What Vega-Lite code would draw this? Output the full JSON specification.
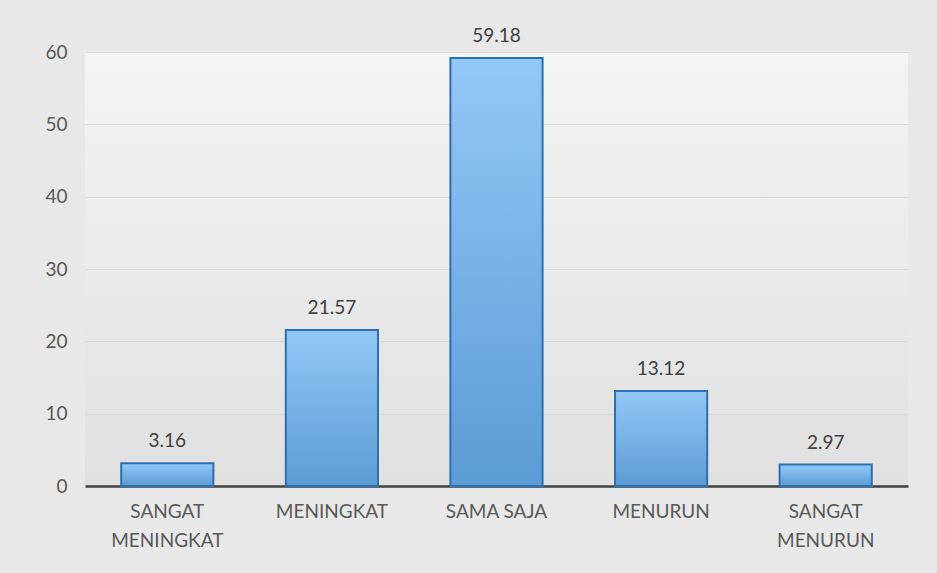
{
  "$schema": "https://vega.github.io/schema/vega-lite/v6.json",
  "autosize": "none",
  "width": 823,
  "height": 434,
  "padding": {"left": 85, "top": 52, "right": 29, "bottom": 87},
  "background": "#e8e8e8",
  "config": {
    "font": "Lato",
    "view": {
      "stroke": null,
      "fill": {"gradient": "linear", "x1": 0, "y1": 0, "x2": 0, "y2": 1, "stops": [{"offset": 0, "color": "#f4f4f4"}, {"offset": 1, "color": "#e0e0e0"}]}
    }
  },
  "data": {
    "values": [
      {"kategori": "SANGAT MENINGKAT", "nilai": 3.16},
      {"kategori": "MENINGKAT", "nilai": 21.57},
      {"kategori": "SAMA SAJA", "nilai": 59.18},
      {"kategori": "MENURUN", "nilai": 13.12},
      {"kategori": "SANGAT MENURUN", "nilai": 2.97}
    ]
  },
  "encoding": {
    "x": {
      "field": "kategori",
      "type": "nominal",
      "sort": null,
      "scale": {"paddingInner": 0.44, "paddingOuter": 0.22},
      "axis": {
        "title": null,
        "labelAngle": 0,
        "labelFontSize": 19,
        "labelColor": "#595959",
        "labelPadding": 16,
        "labelLineHeight": 29,
        "labelExpr": "indexof(datum.label, 'SANGAT') == 0 ? ['SANGAT', substring(datum.label, 7)] : datum.label",
        "domainColor": "#404040",
        "domainWidth": 2.5,
        "ticks": false
      }
    },
    "y": {
      "field": "nilai",
      "type": "quantitative",
      "scale": {"domain": [0, 60], "nice": false},
      "axis": {
        "title": null,
        "values": [0, 10, 20, 30, 40, 50, 60],
        "labelFontSize": 19,
        "labelColor": "#595959",
        "labelPadding": 18,
        "domain": false,
        "ticks": false,
        "gridColor": "#d9d9d9",
        "gridWidth": 1
      }
    }
  },
  "layer": [
    {
      "mark": {
        "type": "bar",
        "stroke": "#2e6fb0",
        "strokeWidth": 2,
        "fill": {"gradient": "linear", "x1": 0, "y1": 0, "x2": 0, "y2": 1, "stops": [{"offset": 0, "color": "#93c8f7"}, {"offset": 1, "color": "#5b9bd5"}]}
      }
    },
    {
      "mark": {"type": "text", "dy": -12, "fontSize": 19, "color": "#404040", "baseline": "bottom"},
      "encoding": {"text": {"field": "nilai", "type": "quantitative", "format": ".2f"}}
    }
  ]
}
